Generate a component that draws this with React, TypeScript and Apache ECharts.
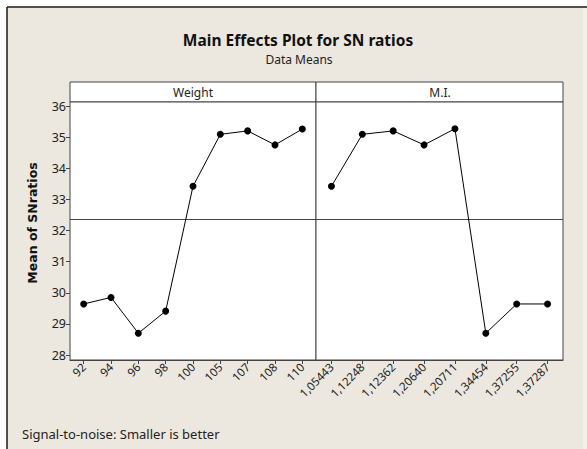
import React, { useEffect, useRef } from "react";
import * as echarts from "echarts";

const weightLevels = ["92", "94", "96", "98", "100", "105", "107", "108", "110"];
const weightMeans = [29.64, 29.85, 28.7, 29.41, 33.42, 35.09, 35.2, 34.75, 35.26];

const miLevels = ["1,05443", "1,12248", "1,12362", "1,20640", "1,20711", "1,34454", "1,37255", "1,37287"];
const miMeans = [33.42, 35.09, 35.2, 34.75, 35.27, 28.7, 29.64, 29.64];

const yMin = 28;
const yMax = 36;
const yStep = 1;

const panelNames = ["Weight", "M.I."];
const titleText = "Main Effects Plot for SN ratios";
const subtitleText = "Data Means";
const yAxisTitle = "Mean of SNratios";
const footerText = "Signal-to-noise: Smaller is better";

const FONT = "'Noto Sans', 'DejaVu Sans', sans-serif";

export default function App() {
  const ref = useRef<HTMLDivElement>(null);

  useEffect(() => {
    if (!ref.current) return;
    const chart = echarts.init(ref.current, undefined, { renderer: "svg" });
    const overallMean = weightMeans.reduce((a, b) => a + b, 0) / weightMeans.length;

    const frameColor = "#444";
    const markLine = {
      silent: true,
      symbol: ["none", "none"],
      label: { show: false },
      lineStyle: { color: frameColor, width: 1, type: "solid" },
      data: [{ yAxis: overallMean }],
    };

    const xAxisCommon = {
      type: "category",
      boundaryGap: true,
      offset: 5,
      axisLine: { show: true, lineStyle: { color: frameColor, width: 1 } },
      axisTick: { show: true, alignWithLabel: true, length: 4, lineStyle: { color: frameColor } },
      axisLabel: { rotate: 45, margin: 5, fontSize: 11.5, color: "#222", fontFamily: FONT },
      splitLine: { show: false },
    };

    chart.setOption({
      animation: false,
      backgroundColor: "#ffffff",
      grid: [
        { left: 70, top: 106, width: 246, height: 249 },
        { left: 316, top: 106, width: 247, height: 249 },
      ],
      xAxis: [
        { ...xAxisCommon, gridIndex: 0, data: weightLevels },
        { ...xAxisCommon, gridIndex: 1, data: miLevels },
      ],
      yAxis: [
        {
          type: "value",
          gridIndex: 0,
          min: yMin,
          max: yMax,
          interval: yStep,
          axisLine: { show: false },
          axisTick: { show: true, length: 4, lineStyle: { color: frameColor } },
          axisLabel: { margin: 4, fontSize: 12.5, color: "#222", fontFamily: FONT },
          splitLine: { show: false },
        },
        {
          type: "value",
          gridIndex: 1,
          min: yMin,
          max: yMax,
          interval: yStep,
          axisLine: { show: false },
          axisTick: { show: false },
          axisLabel: { show: false },
          splitLine: { show: false },
        },
      ],
      series: [
        {
          type: "line",
          xAxisIndex: 0,
          yAxisIndex: 0,
          data: weightMeans,
          symbol: "circle",
          symbolSize: 7,
          itemStyle: { color: "#000" },
          lineStyle: { color: "#000", width: 1 },
          markLine,
          z: 5,
        },
        {
          type: "line",
          xAxisIndex: 1,
          yAxisIndex: 1,
          data: miMeans,
          symbol: "circle",
          symbolSize: 7,
          itemStyle: { color: "#000" },
          lineStyle: { color: "#000", width: 1 },
          markLine,
          z: 5,
        },
      ],
      graphic: [
        {
          type: "rect",
          z: -10,
          shape: { x: 7, y: 7, width: 580, height: 442 },
          style: { fill: "#ece8df", stroke: "none" },
        },
        {
          type: "rect",
          z: -9,
          shape: { x: 583, y: 8, width: 4, height: 441 },
          style: { fill: "#f2efe9", stroke: "none" },
        },
        {
          type: "line",
          z: -8,
          shape: { x1: 7, y1: 7, x2: 587, y2: 7 },
          style: { stroke: "#1a1a1a", lineWidth: 1.5 },
        },
        {
          type: "line",
          z: -8,
          shape: { x1: 7, y1: 7, x2: 7, y2: 449 },
          style: { stroke: "#1a1a1a", lineWidth: 1.5 },
        },
        {
          type: "rect",
          z: -5,
          shape: { x: 70, y: 82, width: 246, height: 20 },
          style: { fill: "#fff", stroke: frameColor, lineWidth: 1 },
        },
        {
          type: "rect",
          z: -5,
          shape: { x: 316, y: 82, width: 247, height: 20 },
          style: { fill: "#fff", stroke: frameColor, lineWidth: 1 },
        },
        {
          type: "rect",
          z: -5,
          shape: { x: 70, y: 102, width: 246, height: 258 },
          style: { fill: "#fff", stroke: frameColor, lineWidth: 1 },
        },
        {
          type: "rect",
          z: -5,
          shape: { x: 316, y: 102, width: 247, height: 258 },
          style: { fill: "#fff", stroke: frameColor, lineWidth: 1 },
        },
        {
          type: "text",
          x: 193,
          y: 92,
          style: { text: panelNames[0], textAlign: "center", textVerticalAlign: "middle", fontSize: 12, fill: "#222", fontFamily: FONT },
        },
        {
          type: "text",
          x: 440,
          y: 92,
          style: { text: panelNames[1], textAlign: "center", textVerticalAlign: "middle", fontSize: 12, fill: "#222", fontFamily: FONT },
        },
        {
          type: "text",
          x: 298,
          y: 40,
          style: { text: titleText, textAlign: "center", textVerticalAlign: "middle", fontSize: 15.5, fontWeight: "bold", fill: "#111", fontFamily: FONT },
        },
        {
          type: "text",
          x: 299,
          y: 59,
          style: { text: subtitleText, textAlign: "center", textVerticalAlign: "middle", fontSize: 12, fill: "#222", fontFamily: FONT },
        },
        {
          type: "text",
          x: 32,
          y: 223,
          rotation: Math.PI / 2,
          style: { text: yAxisTitle, textAlign: "center", textVerticalAlign: "middle", fontSize: 12.5, fontWeight: "bold", fill: "#111", fontFamily: "'DejaVu Sans', sans-serif" },
        },
        {
          type: "text",
          x: 22,
          y: 434,
          style: { text: footerText, textAlign: "left", textVerticalAlign: "middle", fontSize: 13, fill: "#222", fontFamily: FONT },
        },
      ],
    });

    return () => chart.dispose();
  }, []);

  return (
    <div
      ref={ref}
      style={{ position: "fixed", left: 0, top: 0, width: 587, height: 449 }}
    />
  );
}
